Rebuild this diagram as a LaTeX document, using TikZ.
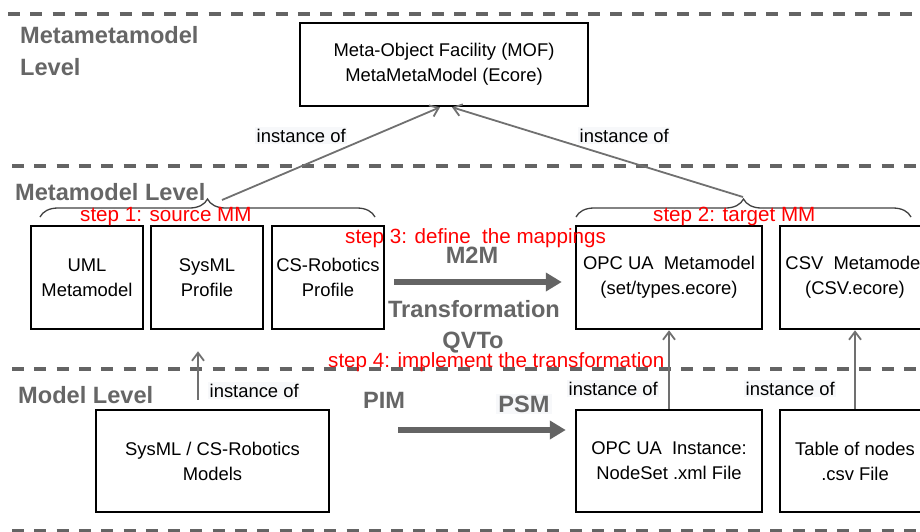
\documentclass[tikz,border=0pt]{standalone}
\usepackage{fontspec}
\setmainfont{Liberation Sans}
\usetikzlibrary{arrows.meta,decorations.pathreplacing,calc}
\definecolor{levelgray}{RGB}{102,102,102}
\definecolor{linegray}{RGB}{112,112,112}
\definecolor{dashgray}{RGB}{100,100,100}
\definecolor{labelbg}{RGB}{247,248,250}
\definecolor{steptext}{RGB}{255,0,0}
\newcommand{\boxfont}{\fontsize{18.4}{25}\selectfont}
\newcommand{\levelfont}{\fontsize{23.6}{32}\selectfont\bfseries}
\newcommand{\stepfont}{\fontsize{20.6}{24}\selectfont}

\begin{document}
\begin{tikzpicture}[x=1pt,y=-1pt,
  levelsep/.style={draw=dashgray, line width=4pt, dash pattern=on 12pt off 10.3pt},
  mbox/.style={draw=black, line width=2.5pt, align=center, font=\boxfont, inner sep=0pt},
  levellabel/.style={font=\levelfont, text=levelgray, inner sep=0pt, anchor=base west},
  xformlabel/.style={font=\levelfont, text=levelgray, inner sep=0pt, anchor=base},
  steplabel/.style={font=\stepfont, text=steptext, inner sep=0pt, anchor=base west},
  instlabel/.style={font=\boxfont, inner sep=1.5pt, anchor=base west, fill=labelbg},
  instof/.style={draw=linegray, line width=1.8pt, -{Straight Barb[length=8pt,width=12pt]}},
  xform/.style={draw=dashgray, line width=6.5pt, -{Triangle[length=16pt,width=18pt]}},
  groupbrace/.style={draw=black!75, line width=1.3pt, decorate, decoration={brace, amplitude=18pt}},
]
\useasboundingbox (0,0) rectangle (920,531);
\clip (0,0) rectangle (920,531);

% level separators
\draw[levelsep] (8,14) -- (920,14);
\draw[levelsep] (12,166) -- (920,166);
\draw[levelsep] (12,369) -- (920,369);
\draw[levelsep] (12,530.5) -- (920,530.5);

% level names
\node[levellabel] (lvtop) at (20,43) {Metametamodel};
\node[levellabel] (lvtop2) at (20,75) {Level};
\node[levellabel] (lvmeta) at (15,200) {Metamodel Level};
\node[levellabel] (lvmodel) at (18,403) {Model Level};

% boxes
\node[mbox, minimum width=288pt, minimum height=83pt] (mof) at (444,64.5) {Meta-Object Facility (MOF)\\MetaMetaModel (Ecore)};
\node[mbox, minimum width=112pt, minimum height=103pt] (uml) at (87,277.5) {UML\\Metamodel};
\node[mbox, minimum width=112pt, minimum height=103pt] (sysml) at (207,277.5) {SysML\\Profile};
\node[mbox, minimum width=112pt, minimum height=103pt] (csr) at (328,277.5) {CS-Robotics\\Profile};
\node[mbox, minimum width=186pt, minimum height=103pt] (opcmm) at (669,277.5) {OPC UA\ \ Metamodel\\(set/types.ecore)};
\node[mbox, minimum width=150pt, minimum height=103pt] (csvmm) at (855,277.5) {CSV\ \ Metamodel\\(CSV.ecore)};
\node[mbox, minimum width=233pt, minimum height=102pt] (models) at (212.5,461) {SysML / CS-Robotics\\Models};
\node[mbox, minimum width=186pt, minimum height=102pt] (opcinst) at (669,461) {OPC UA\ \ Instance:\\NodeSet .xml File};
\node[mbox, minimum width=150pt, minimum height=102pt] (nodetab) at (855,461) {Table of nodes\\.csv File};

% groups of metamodels
\draw[groupbrace] (40,217) -- (375,217);
\draw[groupbrace] (576,217) -- (911,217);
\coordinate (srcTip) at (222,200);
\coordinate (tgtTip) at (743,197);

% instance-of relations
\draw[instof] (srcTip) -- ($(mof.south)+(-4,0)$);
\draw[instof] (tgtTip) -- ($(mof.south)+(8,0)$);
\draw[instof] ($(models.north)+(-14.5,-9)$) -- ($(sysml.south)+(-9,21)$);
\draw[instof] (opcinst.north) -- (opcmm.south);
\draw[instof] (nodetab.north) -- (csvmm.south);

\node[instlabel] (instA) at (255,142) {instance of};
\node[instlabel] (instB) at (578,142) {instance of};
\node[instlabel] (instC) at (208,397) {instance of};
\node[instlabel] (instD) at (567,395) {instance of};
\node[instlabel] (instE) at (744,395) {instance of};

% transformations
\draw[xform] ($(csr.east)+(9,4.5)$) -- ($(opcmm.west)+(-13,4.5)$);
\draw[xform] ($(models.east)+(68,-31)$) -- ($(opcinst.west)+(-9,-31)$);
\node[xformlabel] (m2m) at (472,263) {M2M};
\node[xformlabel] (trans) at (474,317) {Transformation};
\node[xformlabel] (qvto) at (473,348) {QVTo};
\node[xformlabel] (pim) at (384,408) {PIM};
\node[xformlabel, fill=labelbg, inner sep=2pt] (psm) at (524,412) {PSM};

% steps
\node[steplabel] (step1) at (80,221) {step 1: source MM};
\node[steplabel] (step2) at (653,221) {step 2: target MM};
\node[steplabel] (step3) at (345,243) {step 3: define\ \ the mappings};
\node[steplabel] (step4) at (328,367) {step 4: implement the transformation};
\end{tikzpicture}
\end{document}
